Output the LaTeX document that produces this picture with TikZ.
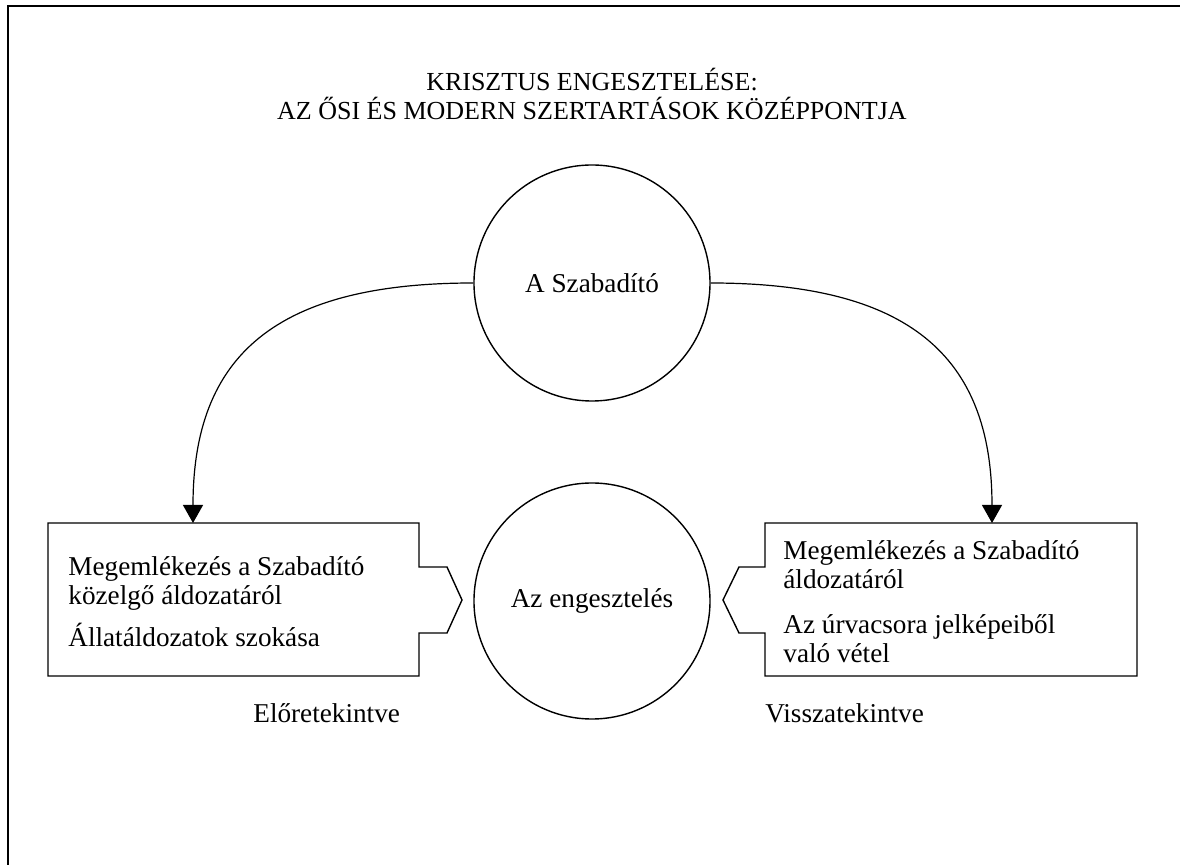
\documentclass[tikz,border=0pt]{standalone}
\usepackage{fontspec}
\setmainfont{Liberation Serif}
\usetikzlibrary{arrows.meta}

\begin{document}
\begin{tikzpicture}[x=0.5pt,y=-0.5pt,
    every node/.style={font=\fontsize{13.6}{14.5}\selectfont},
    disc/.style={circle,draw,minimum size=118pt,inner sep=0pt,line width=0.7pt},
    outline/.style={line width=0.7pt},
    txt/.style={anchor=base west,align=left,inner sep=0pt},
    link/.style={-{Triangle[length=9pt,width=10pt]},line width=0.6pt}]
  \useasboundingbox (0,0) rectangle (1180,865);
  \draw[line width=1pt] (1180,6) -- (8,6) -- (8,865);
  \node[align=center,anchor=base,inner sep=0pt,font=\fontsize{13}{14.5}\selectfont] (title) at (592,120)
    {KRISZTUS ENGESZTELÉSE:\\AZ ŐSI ÉS MODERN SZERTARTÁSOK KÖZÉPPONTJA};
  \node[disc] (sav) at (592,283) {A Szabadító};
  \node[disc] (atone) at (592,601) {Az engesztelés};
  % left box with its notch
  \draw[outline] (48,523) -- (419,523) -- (419,567) -- (447,567) -- (462,600)
    -- (447,633) -- (419,633) -- (419,676) -- (48,676) -- cycle;
  \node[txt] (fwdtext) at (68,647)
    {Megemlékezés a Szabadító\\közelgő áldozatáról\\[5.5pt]Állatáldozatok szokása};
  % right box with its notch
  \draw[outline] (1137,523) -- (765,523) -- (765,567) -- (739,567) -- (723,600)
    -- (739,633) -- (765,633) -- (765,676) -- (1137,676) -- cycle;
  \node[txt] (backtext) at (783,663)
    {Megemlékezés a Szabadító\\áldozatáról\\[8pt]Az úrvacsora jelképeiből\\való vétel};
  \node[txt] (fwdlabel) at (253,723) {Előretekintve};
  \node[txt] (backlabel) at (765,723) {Visszatekintve};
  \coordinate (fwd) at (193,523);
  \coordinate (back) at (992,523);
  \draw[link] (sav.west) .. controls +(-197,0) and +(0,-168) .. (fwd);
  \draw[link] (sav.east) .. controls +(197,0) and +(0,-168) .. (back);
\end{tikzpicture}
\end{document}
